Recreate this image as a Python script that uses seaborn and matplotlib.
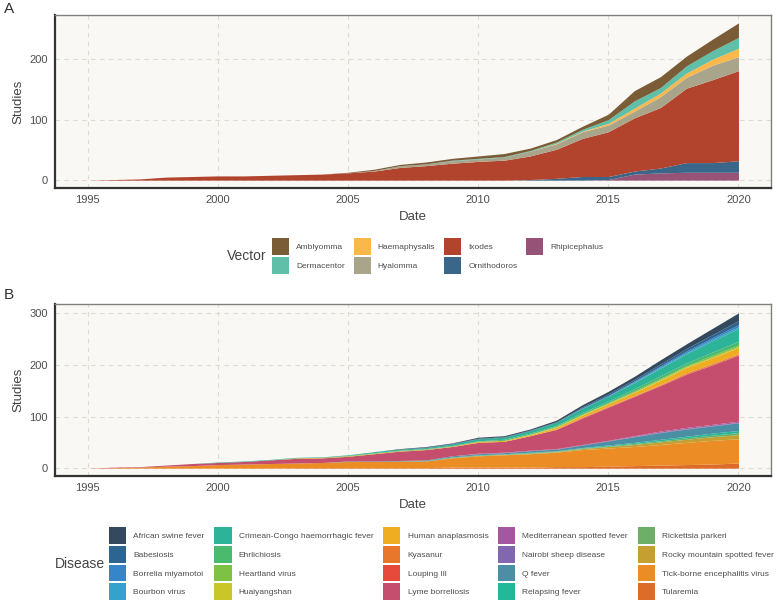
"""
Cumulative tick studies by vector (A) and by disease (B).
"""

import matplotlib; matplotlib.use('Agg')
import matplotlib.pyplot as plt
from matplotlib.patches import Patch
from matplotlib.font_manager import FontProperties
import seaborn as sns

years = list(range(1995, 2021))

# ---- panel A: vector (1995..2020)
vectors = ['Amblyomma', 'Dermacentor', 'Haemaphysalis', 'Hyalomma',
           'Ixodes', 'Ornithodoros', 'Rhipicephalus']
vector_colors = ['#7A5C37', '#5FBFA8', '#FAB84C', '#A9A58B',
                 '#B2432D', '#3A6689', '#975377']

amblyomma     = [0,0,0,0,0,0,0,0,0,0,1,2,2,3,3,4,5,4,4,5,9,17,18,16,19,24]
dermacentor   = [0,0,0,0,0,0,0,0,0,0,0,0,0,0,1,1,1,1,2,3,6,12,9,12,14,18]
haemaphysalis = [0,0,0,0,0,0,0,0,0,0,0,0,0,0,0,0,0,0,1,1,3,5,6,7,10,14]
hyalomma      = [0,0,0,0,0,0,0,0,0,0,0,1,3,3,4,4,5,8,9,11,11,11,18,18,24,23]
ixodes        = [0,1,2,5,6,7,7,8,9,10,12,15,21,24,28,31,33,39,48,63,74,88,100,123,137,149]
ornithodoros  = [0,0,0,0,0,0,0,0,0,0,0,0,0,0,0,0,0,1,3,6,5,5,8,16,16,19]
rhipicephalus = [0,0,0,0,0,0,0,0,0,0,0,0,0,0,0,0,0,0,0,0,1,10,12,13,13,13]

# ---- panel B: disease (1995..2020)
diseases = ['African swine fever', 'Babesiosis', 'Borrelia miyamotoi', 'Bourbon virus',
            'Crimean-Congo haemorrhagic fever', 'Ehrlichiosis', 'Heartland virus',
            'Huaiyangshan', 'Human anaplasmosis', 'Kyasanur', 'Louping Ill',
            'Lyme borreliosis', 'Mediterranean spotted fever', 'Nairobi sheep disease',
            'Q fever', 'Relapsing fever', 'Rickettsia parkeri',
            'Rocky mountain spotted fever', 'Tick-borne encephalitis virus', 'Tularemia']
disease_colors = ['#34495E', '#2E6490', '#3585C8', '#34A3CB', '#2DB498', '#4ABA6E',
                  '#7DC244', '#C9C62A', '#EFAE22', '#E8772B', '#E74A3B', '#C54D6D',
                  '#A656A0', '#8067B0', '#4B8FA5', '#22B898', '#6DAF66', '#C5A030',
                  '#EC8C25', '#DD6C28']

african_swine = [0,0,0,0,0,0,0,0,0,0,0,0,1,1,1,2,2,2,3,4,5,6,8,9,12,15]
babesiosis    = [0,0,0,0,0,0,0,0,0,0,0,0,0,1,1,1,1,1,1,2,3,3,4,5,6,8]
borrelia_miy  = [0,0,0,0,0,0,0,0,0,0,0,0,0,0,0,0,0,0,0,1,1,2,2,3,3,4]
bourbon       = [0,0,0,0,0,0,0,0,0,0,0,0,0,0,0,0,0,0,0,0,0,1,2,2,3,3]
cchf          = [0,0,0,0,0,1,1,1,1,1,1,2,2,2,3,4,4,5,6,8,10,12,15,18,22,25]
ehrlichiosis  = [0,0,0,0,0,0,0,0,0,0,1,1,1,1,1,1,2,2,2,3,3,4,5,5,6,7]
heartland     = [0,0,0,0,0,0,0,0,0,0,0,0,0,0,0,0,0,0,1,1,1,2,2,2,3,3]
huaiyangshan  = [0,0,0,0,0,0,0,0,0,0,0,0,0,0,0,0,0,1,1,1,1,1,2,2,2,2]
human_anapl   = [0,0,0,0,0,0,0,0,1,1,1,1,1,1,1,2,2,2,3,4,5,6,8,10,11,12]
kyasanur      = [0,0,0,0,0,0,0,0,0,0,0,0,0,0,0,0,0,0,1,1,1,1,1,2,2,2]
louping_ill   = [0,0,0,0,0,0,0,0,0,0,0,0,0,0,0,0,0,0,0,1,1,1,1,1,1,1]
lyme          = [0,1,1,2,4,4,5,7,9,9,9,14,18,20,18,21,21,28,37,51,64,76,88,103,115,128]
mediterranean = [0,0,0,0,0,0,0,0,0,0,0,0,0,0,0,1,1,1,1,1,1,1,2,2,2,2]
nairobi       = [0,0,0,0,0,0,0,0,0,0,0,0,0,0,0,0,0,0,0,0,0,1,1,1,1,1]
q_fever       = [0,0,0,0,0,0,0,0,0,0,1,1,1,1,2,2,2,3,3,5,8,11,13,14,14,15]
relapsing     = [0,0,0,0,0,0,0,0,0,0,0,0,0,1,1,1,1,1,1,1,2,2,3,3,4,4]
rick_parkeri  = [0,0,0,0,0,0,0,0,0,0,0,0,0,0,0,0,0,1,1,1,1,2,2,3,3,4]
rocky_mtn     = [0,0,0,0,0,0,0,0,0,0,0,0,0,0,1,1,1,1,1,2,3,4,5,6,7,8]
tbev          = [0,1,2,4,5,7,8,9,9,10,12,12,13,13,18,22,24,26,28,33,35,37,40,43,46,47]
tularemia     = [0,0,0,0,0,0,0,0,1,1,1,1,1,1,2,2,2,2,3,3,4,5,6,7,8,10]

vector_series = [amblyomma, dermacentor, haemaphysalis, hyalomma,
                 ixodes, ornithodoros, rhipicephalus]
disease_series = [african_swine, babesiosis, borrelia_miy, bourbon, cchf,
                  ehrlichiosis, heartland, huaiyangshan, human_anapl, kyasanur,
                  louping_ill, lyme, mediterranean, nairobi, q_fever, relapsing,
                  rick_parkeri, rocky_mtn, tbev, tularemia]

sns.set_theme(style='whitegrid')
plt.rcParams['font.family'] = ['Liberation Sans', 'DejaVu Sans']

W, H = 777, 603
fig = plt.figure(figsize=(W/100, H/100), dpi=100)
fig.patch.set_facecolor('white')
axA = fig.add_axes([55/W, 1-188/H, 716/W, 173/H])
axB = fig.add_axes([55/W, 1-476/H, 716/W, 172/H])

small = FontProperties(family=['Liberation Sans', 'DejaVu Sans'], size=6)


def stack(ax, series, colors):
    # ggplot order: first level on top -> draw reversed
    ax.stackplot(years, *series[::-1], colors=colors[::-1], linewidth=0)


def style(ax, ymax, yticks):
    ax.set_facecolor('#FAF8F4')
    ax.set_xlim(1993.75, 2021.25)
    ax.set_ylim(-0.05*ymax, 1.05*ymax)
    ax.set_xticks(range(1995, 2021, 5))
    ax.set_yticks(yticks)
    ax.grid(True, color='#DEDAD4', linestyle=(0, (4, 4)), linewidth=0.8)
    ax.set_axisbelow(True)
    for s in ['top', 'right']:
        ax.spines[s].set_color('#808080')
        ax.spines[s].set_linewidth(1.0)
    for s in ['left', 'bottom']:
        ax.spines[s].set_color('#333333')
        ax.spines[s].set_linewidth(1.6)
    ax.tick_params(length=3, width=0.8, color='#333333', labelsize=8,
                   labelcolor='#4D4D4D', pad=2)
    ax.set_xlabel('Date', fontsize=9.5, color='#444444', labelpad=4)
    ax.set_ylabel('Studies', fontsize=9.5, color='#444444', labelpad=4)


stack(axA, vector_series, vector_colors)
style(axA, 260, [0, 100, 200])
stack(axB, disease_series, disease_colors)
style(axB, 303, [0, 100, 200, 300])

fig.text(4/W, 1-9/H, 'A', fontsize=11, color='#333333', va='center')
fig.text(4/W, 1-295/H, 'B', fontsize=11, color='#333333', va='center')

# legends, title on the left like ggplot
legkw = dict(loc='upper left', frameon=False, prop=small, handlelength=2.05,
             handleheight=2.75, handletextpad=0.85, labelspacing=0.22,
             borderpad=0, borderaxespad=0)

hA = [Patch(facecolor=c, edgecolor='none') for c in vector_colors]
legA = fig.legend(hA, vectors, bbox_to_anchor=(272/W, 1-238/H), ncol=4,
                  columnspacing=1.05, **legkw)
fig.text(227/W, 1-256/H, 'Vector', fontsize=10, color='#444444', va='center')

hB = [Patch(facecolor=c, edgecolor='none') for c in disease_colors]
legB = fig.legend(hB, diseases, bbox_to_anchor=(109/W, 1-527/H), ncol=5,
                  columnspacing=1.2, **legkw)
fig.text(55/W, 1-564/H, 'Disease', fontsize=10, color='#444444', va='center')

for leg in (legA, legB):
    for t in leg.get_texts():
        t.set_color('#4D4D4D')

fig.savefig('out.png', dpi=100)
plt.close()
